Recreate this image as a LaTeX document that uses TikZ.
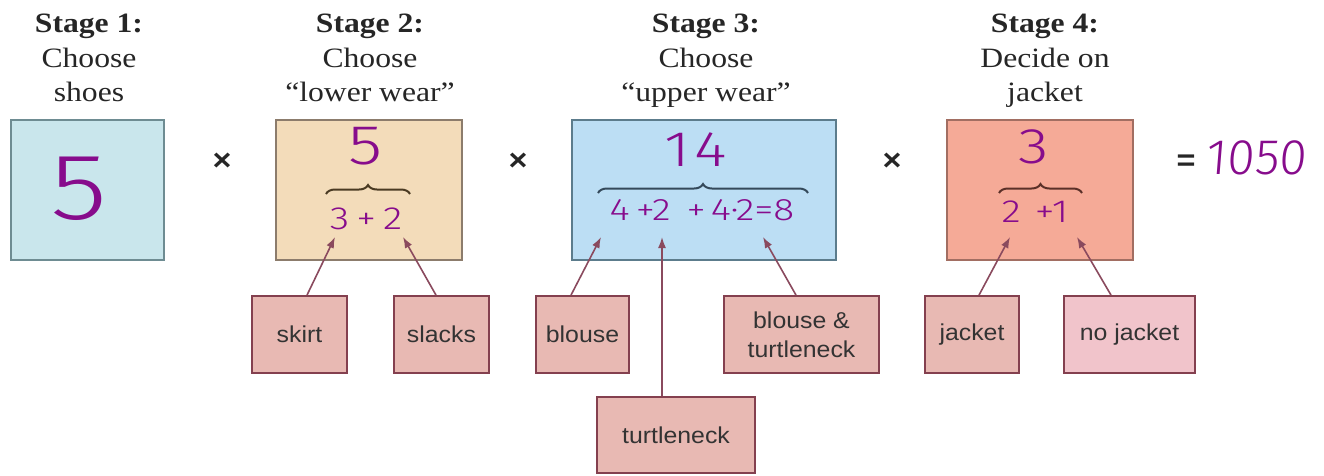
\documentclass[tikz,border=0pt]{standalone}
\usepackage{fontspec}
\setmainfont{Liberation Serif}[FakeStretch=1.13]
\newfontfamily\labfont{Liberation Sans}[FakeStretch=1.08]
\newfontfamily\hand{Fira Sans Light}
\newfontfamily\handw{Fira Sans Light}[FakeStretch=1.25]
\usetikzlibrary{decorations.pathreplacing,arrows.meta,calc}
\definecolor{cA}{HTML}{C9E6EC}
\definecolor{cAb}{HTML}{6E8C92}
\definecolor{cB}{HTML}{F3DCBA}
\definecolor{cBb}{HTML}{8C7C6C}
\definecolor{cC}{HTML}{BCDEF4}
\definecolor{cCb}{HTML}{5C7C8C}
\definecolor{cD}{HTML}{F5AA97}
\definecolor{cDb}{HTML}{A26E62}
\definecolor{opt}{HTML}{E8B9B3}
\definecolor{optl}{HTML}{F1C4CB}
\definecolor{optb}{HTML}{84404F}
\definecolor{arrc}{HTML}{8A4A5E}
\definecolor{purp}{HTML}{870C8C}
\definecolor{brB}{HTML}{4A3A22}
\definecolor{brC}{HTML}{34495A}
\definecolor{brD}{HTML}{5A3028}
\tikzset{
  stage/.style={align=center,inner sep=0pt,anchor=north,font=\fontsize{28}{34.5}\selectfont,text=black!85},
  bigbox/.style={draw,line width=1.8pt,minimum height=140pt,inner sep=0pt},
  optbox/.style={draw=optb,fill=opt,line width=1.8pt,minimum height=77pt,inner sep=0pt,font=\labfont\fontsize{23}{29}\selectfont,text=black!80,align=center},
  hw/.style={text=purp,inner sep=0pt,font=\hand},
  brc/.style={decorate,decoration={brace,amplitude=9pt},line width=2pt},
  arr/.style={draw=arrc,line width=1.6pt,-{Latex[length=11pt,width=8pt]}},
  op/.style={inner sep=0pt,font=\labfont\bfseries\fontsize{30}{30}\selectfont,text=black!85}
}
\begin{document}
\begin{tikzpicture}[x=1pt,y=-1pt]
\useasboundingbox[fill=white] (0,0) rectangle (1324,475);
% stage titles
\node[stage] (s1) at (89,14) {\textbf{Stage 1:}\\Choose\\shoes};
\node[stage] (s2) at (370,14) {\textbf{Stage 2:}\\Choose\\``lower wear''};
\node[stage] (s3) at (706,14) {\textbf{Stage 3:}\\Choose\\``upper wear''};
\node[stage] (s4) at (1045,14) {\textbf{Stage 4:}\\Decide on\\jacket};
% big boxes
\node[bigbox,draw=cAb,fill=cA,minimum width=153pt] (b1) at (87.5,190) {};
\node[bigbox,draw=cBb,fill=cB,minimum width=186pt] (b2) at (369,190) {};
\node[bigbox,draw=cCb,fill=cC,minimum width=264pt] (b3) at (704,190) {};
\node[bigbox,draw=cDb,fill=cD,minimum width=186pt] (b4) at (1040,190) {};
% operators
\node[op] (x1) at (222,162) {×};
\node[op] (x2) at (518,162) {×};
\node[op] (x3) at (892,162) {×};
\node[op] (eq) at (1186,163) {=};
\node[hw,anchor=west,font=\hand\fontsize{50}{50}\selectfont,xslant=0.08] (res) at (1207,158) {1050};
% handwritten numbers
\node[hw,font=\handw\fontsize{94}{94}\selectfont] (n1) at (79,189) {5};
\node[hw,font=\handw\fontsize{56}{56}\selectfont] (n2) at (366,146) {5};
\node[hw,font=\handw\fontsize{32}{32}\selectfont] (e2) at (366,219) {3\hspace{7pt}+\hspace{7pt}2};
\draw[brc,brB] (326,194) -- (410,194);
\node[hw,font=\handw\fontsize{50}{50}\selectfont] (n3) at (696,150) {1\hspace{4pt}4};
\node[hw,font=\handw\fontsize{31}{31}\selectfont] (e3) at (702,210) {4\hspace{6pt}+2\hspace{16pt}+\hspace{5pt}4·2=8};
\draw[brc,brC] (598,193) -- (808,193);
\node[hw,font=\handw\fontsize{50}{50}\selectfont] (n4) at (1034,147) {3};
\node[hw,font=\handw\fontsize{32}{32}\selectfont] (e4) at (1035,212) {2\hspace{14pt}+1};
\draw[brc,brD] (999,193) -- (1082,193);
% option boxes
\node[optbox,minimum width=95pt] (skirt) at (299.5,334.5) {skirt};
\node[optbox,minimum width=95pt] (slacks) at (441.5,334.5) {slacks};
\node[optbox,minimum width=93pt] (blouse) at (582.5,334.5) {blouse};
\node[optbox,minimum width=155pt] (bt) at (801.5,334.5) {blouse \&\\turtleneck};
\node[optbox,minimum width=158pt,minimum height=76pt] (turtle) at (676,435) {turtleneck};
\node[optbox,minimum width=94pt] (jacket) at (972,334.5) {jacket};
\node[optbox,fill=optl,minimum width=131pt] (nojacket) at (1129.5,334.5) {no jacket};
% arrow tips
\coordinate (t1) at (335,237);
\coordinate (t2) at (403,237);
\coordinate (t3) at (601,237);
\coordinate (t4) at (662,237);
\coordinate (t5) at (763,237);
\coordinate (t6) at (1010,237);
\coordinate (t7) at (1077,237);
\draw[arr] ($(skirt.north)+(7.5,0)$) -- (t1);
\draw[arr] ($(slacks.north)+(-5.5,0)$) -- (t2);
\draw[arr] ($(blouse.north)+(-11.5,0)$) -- (t3);
\draw[arr] ($(turtle.north)+(-14,0)$) -- (t4);
\draw[arr] ($(bt.north)+(-5.5,0)$) -- (t5);
\draw[arr] ($(jacket.north)+(7,0)$) -- (t6);
\draw[arr] ($(nojacket.north)+(-18.5,0)$) -- (t7);
\end{tikzpicture}
\end{document}
